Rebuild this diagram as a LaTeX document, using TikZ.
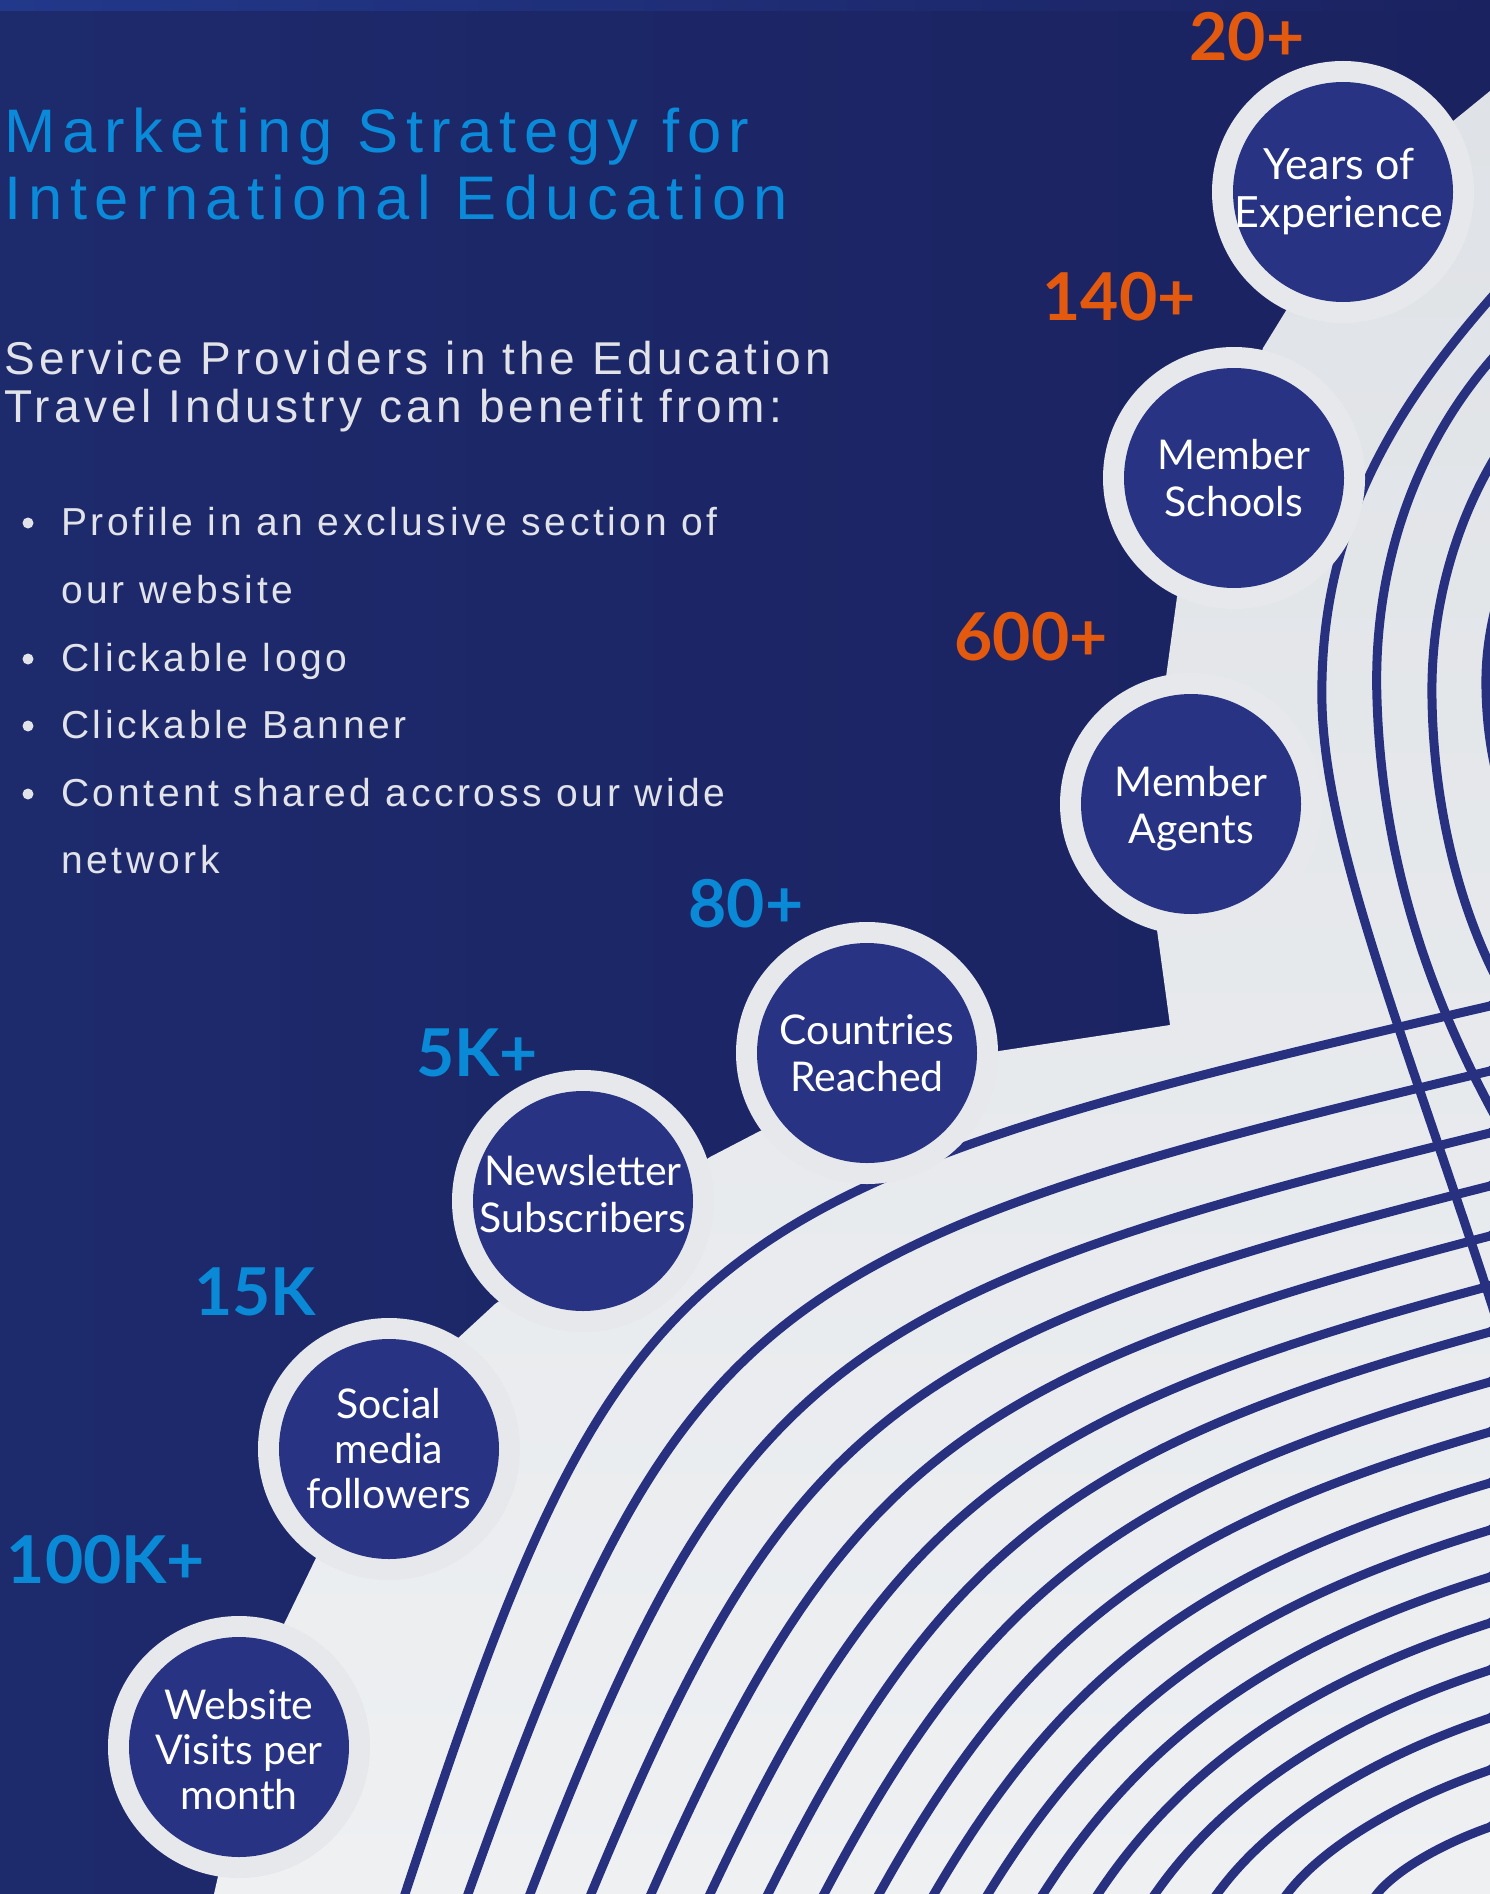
\documentclass[tikz,border=0pt]{standalone}
\usepackage{fontspec}
\usepackage{graphicx}
\setmainfont{Liberation Sans}
\newfontfamily\lato{Lato}
\newfontfamily\titlefont{Liberation Sans}[LetterSpace=12.0]
\newfontfamily\subfont{Liberation Sans}[LetterSpace=9.3]
\definecolor{bgdark}{HTML}{1B2260}
\definecolor{bgleft}{HTML}{1D2A6C}
\definecolor{topband}{HTML}{22388A}
\definecolor{circ}{HTML}{283383}
\definecolor{paper}{HTML}{E6E8EB}
\definecolor{papertop}{HTML}{DFE2E6}
\definecolor{paperlow}{HTML}{EEF0F2}
\definecolor{wave}{HTML}{28317F}
\definecolor{orangenum}{HTML}{E35A0F}
\definecolor{bluenum}{HTML}{0A89D6}
\definecolor{titleblue}{HTML}{0A8AD8}
\definecolor{soft}{HTML}{E2E3E8}
\tikzset{
  ring/.style={circle, fill=paper, minimum size=262pt, inner sep=0pt},
  discfill/.style={circle, fill=circ, minimum size=220pt, inner sep=0pt},
  disc/.style={inner sep=0pt, text=white, align=center,
    font=\lato\fontsize{41}{47}\selectfont},
  discbig/.style={disc, font=\lato\fontsize{43}{48}\selectfont},
  discthree/.style={disc, font=\lato\fontsize{41}{45}\selectfont},
  numo/.style={anchor=base, inner sep=0pt, text=orangenum, font=\lato\bfseries\fontsize{66}{70}\selectfont},
  numb/.style={numo, text=bluenum},
  wavey/.style={draw=wave, line width=9pt},
  titletext/.style={anchor=base west, inner sep=0pt, text=titleblue, font=\titlefont\fontsize{61.5}{70}\selectfont},
  subtext/.style={anchor=base west, inner sep=0pt, text=soft, font=\subfont\fontsize{46}{52}\selectfont},
  itemtext/.style={anchor=base west, inner sep=0pt, text=soft, font=\subfont\fontsize{39}{45}\selectfont},
}
\begin{document}
\begin{tikzpicture}[x=1pt,y=-1pt]
\useasboundingbox (0,0) rectangle (1490,1894);
\clip (0,0) rectangle (1490,1894);
% background
\shade[left color=bgleft, right color=bgdark] (0,0) rectangle (1490,1894);
\shade[left color=topband, right color=bgdark] (0,0) rectangle (1490,11);
% light region
\shade[top color=papertop, bottom color=paperlow]
  (1490,91) -- (1447,126) -- (1287,309) -- (1263,348) -- (1177,597) -- (1166,677)
  -- (1157,930) -- (1170,1025) -- (999,1051) -- (760,1131) -- (710,1157)
  -- (495,1304) -- (456,1340) -- (316,1558) -- (284,1624) -- (219,1872)
  -- (214,1894) -- (1490,1894) -- cycle;
% sweeping lines (family A)
\foreach \xb/\yr [count=\k from 0] in {405/1006, 468/1071, 530/1133, 591/1186, 651/1236,
   710/1286, 768/1332, 824/1382, 879/1432, 934/1483, 988/1530, 1043/1577, 1098/1623,
   1155/1670, 1217/1718, 1287/1770, 1377/1827}{
  \pgfmathsetmacro\tt{\k/16}
  \pgfmathsetmacro\d{0.33+0.45*\tt}
  \pgfmathsetmacro\m{0.23+0.12*\tt}
  \pgfmathsetmacro\f{0.95-0.35*\tt}
  \pgfmathsetmacro\bb{(1490-\xb-\d*(1894-\yr))/(1-\d*\m)}
  \pgfmathsetmacro\aa{1894-\yr-\m*\bb}
  \draw[wavey] ({\xb-40*\d},1934) -- (\xb,1894)
    .. controls ({\xb+\f*\aa*\d},{1894-\f*\aa}) and ({1490-\f*\bb},{\yr+\f*\m*\bb}) .. (1490,\yr)
    -- (1530,{\yr-50*\m-12});
}
% family B
\draw[wavey] (1580,200) -- (1540,245) .. controls (1400,390) and (1318,520) .. (1322,705)
  .. controls (1326,850) and (1410,1050) .. (1500,1330) -- (1520,1390);
\draw[wavey] (1560,290) -- (1530,320) .. controls (1420,420) and (1372,560) .. (1377,700)
  .. controls (1382,860) and (1430,1000) .. (1500,1125) -- (1520,1160);
\draw[wavey] (1540,390) -- (1520,420) .. controls (1460,500) and (1430,600) .. (1432,700)
  .. controls (1434,820) and (1465,920) .. (1500,985) -- (1520,1020);
\draw[wavey] (1510,560) .. controls (1492,610) and (1485,650) .. (1486,690)
  .. controls (1487,740) and (1496,780) .. (1510,820);
% rings
\node[ring] (ry) at (1343,192) {};
\node[ring] (rs) at (1234,478) {};
\node[ring] (ra) at (1191,804) {};
\node[ring] (rc) at (867,1053) {};
\node[ring] (rn) at (583,1201) {};
\node[ring] (rm) at (389,1449) {};
\node[ring] (rw) at (239,1747) {};
% discs
\node[discfill] (dy) at (ry) {};
\node[discfill] (ds) at (rs) {};
\node[discfill] (da) at (ra) {};
\node[discfill] (dc) at (rc) {};
\node[discfill] (dn) at (rn) {};
\node[discfill] (dm) at (rm) {};
\node[discfill] (dw) at (rw) {};
\node[discbig] (ty) at ([xshift=-4pt]dy.center) {Years of\\Experience};
\node[disc] (ts) at (ds.center) {Member\\Schools};
\node[disc] (ta) at ([yshift=-5pt]da.center) {Member\\Agents};
\node[disc] (tc) at (dc.center) {Countries\\Reached};
\node[disc] (tn) at ([yshift=7pt]dn.center) {Newsletter\\Subscribers};
\node[discthree] (tm) at (dm.center) {Social\\media\\followers};
\node[discthree] (tw) at ([yshift=-3pt]dw.center) {Website\\Visits per\\month};
% numbers
\node[numo] (n20) at (1247,61) {20+};
\node[numo] (n140) at (1119,320) {140+};
\node[numo] (n600) at (1031,660) {600+};
\node[numb] (n80) at (746,927) {80+};
\node[numb] (n5k) at (477,1076) {5K+};
\node[numb] (n15k) at (255,1315) {15K};
\node[numb] (n100k) at (106,1583) {100K+};
% title and text
\node[titletext] (t1) at (4,153) {Marketing Strategy for};
\node[titletext] (t2) at (4,220) {International Education};
\node[subtext] (s1) at (4,374) {Service Providers in the Education};
\node[subtext] (s2) at (4,422) {Travel Industry can benefit from:};
\fill[soft] (28,523) circle (5.5);
\fill[soft] (28,659) circle (5.5);
\fill[soft] (28,726) circle (5.5);
\fill[soft] (28,794) circle (5.5);
\node[itemtext] (b1) at (61,535) {Profile in an exclusive section of};
\node[itemtext] (b1b) at (61,603) {our website};
\node[itemtext] (b2) at (61,671) {Clickable logo};
\node[itemtext] (b3) at (61,738) {Clickable Banner};
\node[itemtext] (b4) at (61,806) {Content shared accross our wide};
\node[itemtext] (b4b) at (61,873) {network};
\end{tikzpicture}
\end{document}
